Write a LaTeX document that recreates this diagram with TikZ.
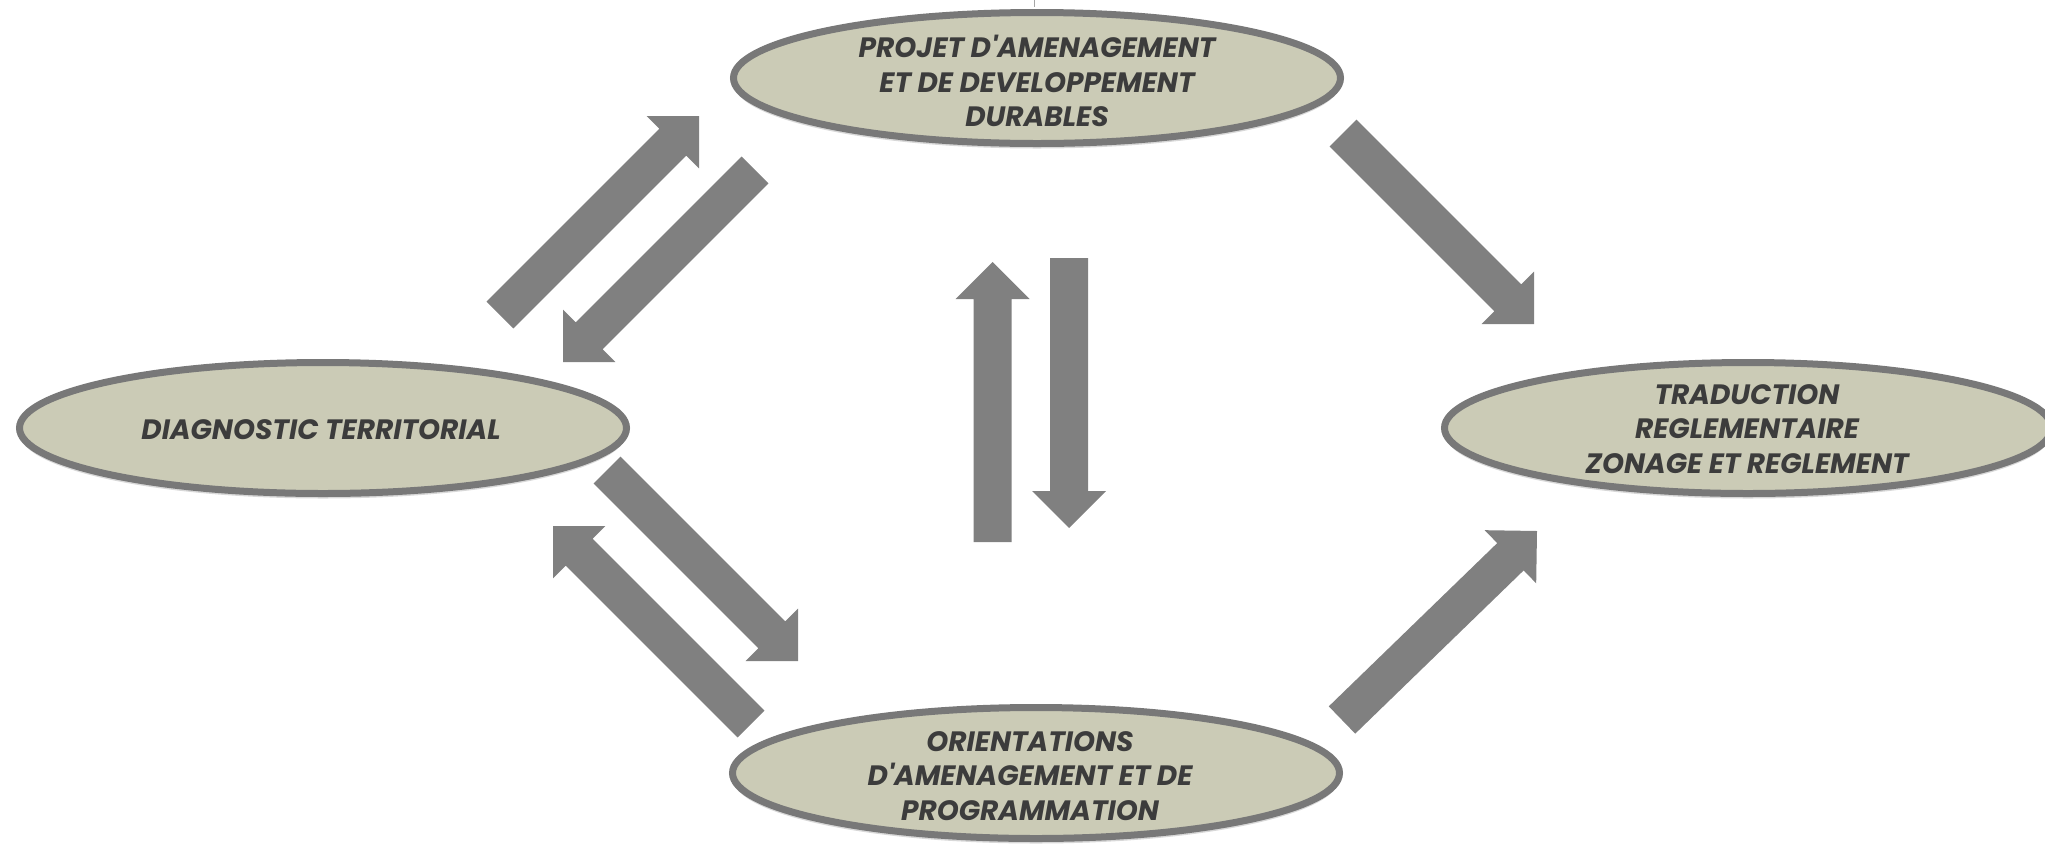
\documentclass[tikz,border=0pt]{standalone}
\usepackage{fontspec}
\newfontfamily\labfont{Poppins}
\usetikzlibrary{calc,shapes.geometric,shadows}
\definecolor{ellfill}{HTML}{CBCBB6}
\definecolor{elldraw}{HTML}{787878}
\definecolor{arrowgray}{HTML}{808080}
\definecolor{txtgray}{HTML}{3C3C3C}
\tikzset{
  stage/.style={ellipse, draw=elldraw, line width=7pt, fill=ellfill,
    minimum width=607pt, minimum height=131pt, inner sep=0pt,
    drop shadow={opacity=0.3, shadow xshift=0pt, shadow yshift=-5pt}},
  stagetext/.style={align=center, text=txtgray, inner sep=0pt,
    font=\labfont\bfseries\itshape\fontsize{28}{34.5}\selectfont},
  blockfill/.style={fill=arrowgray}
}
\newcommand\blockarrow[2]{%
  \coordinate (hb) at ($(#2)!37pt!(#1)$);
  \fill[blockfill] ($(#1)!19pt!90:(#2)$) -- ($(hb)!19pt!90:(#2)$) -- ($(hb)!37pt!90:(#2)$)
    -- (#2) -- ($(hb)!37pt!-90:(#2)$) -- ($(hb)!19pt!-90:(#2)$) -- ($(#1)!19pt!-90:(#2)$) -- cycle;}
\begin{document}
\begin{tikzpicture}[x=1pt,y=-1pt]
\useasboundingbox (0,0) rectangle (2045,847);
\fill[white] (0,0) rectangle (2045,847);
\draw[gray!70, line width=1pt] (1034,0) -- (1034,7);
% ellipses
\node[stage] (P) at (1037,78) {};
\node[stage] (D) at (323,428) {};
\node[stage] (T) at (1748,428) {};
\node[stage] (O) at (1036,773) {};
\node[stagetext] (Pt) at (1037,81) {PROJET D'AMENAGEMENT\\ET DE DEVELOPPEMENT\\DURABLES};
\node[stagetext] (Dt) at (321,430) {DIAGNOSTIC TERRITORIAL};
\node[stagetext] (Tt) at (1747,429) {TRADUCTION\\REGLEMENTAIRE\\ZONAGE ET REGLEMENT};
\node[stagetext] (Ot) at (1030,776) {ORIENTATIONS\\D'AMENAGEMENT ET DE\\PROGRAMMATION};
% arrow end points
\coordinate (a1s) at (500,315);   \coordinate (a1e) at (699,116);
\coordinate (a2s) at (755,170);   \coordinate (a2e) at (563,362);
\coordinate (a3s) at (1343,133);  \coordinate (a3e) at (1534,324);
\coordinate (a4s) at (1342,720);  \coordinate (a4e) at (1537,531);
\coordinate (a5s) at (607,470);   \coordinate (a5e) at (798,661);
\coordinate (a6s) at (751,724);   \coordinate (a6e) at (553,526);
\coordinate (a7s) at (992.5,542); \coordinate (a7e) at (992.5,262);
\coordinate (a8s) at (1069,258);  \coordinate (a8e) at (1069,528);
\blockarrow{a1s}{a1e}
\blockarrow{a2s}{a2e}
\blockarrow{a3s}{a3e}
\blockarrow{a4s}{a4e}
\blockarrow{a5s}{a5e}
\blockarrow{a6s}{a6e}
\blockarrow{a7s}{a7e}
\blockarrow{a8s}{a8e}
\end{tikzpicture}
\end{document}
